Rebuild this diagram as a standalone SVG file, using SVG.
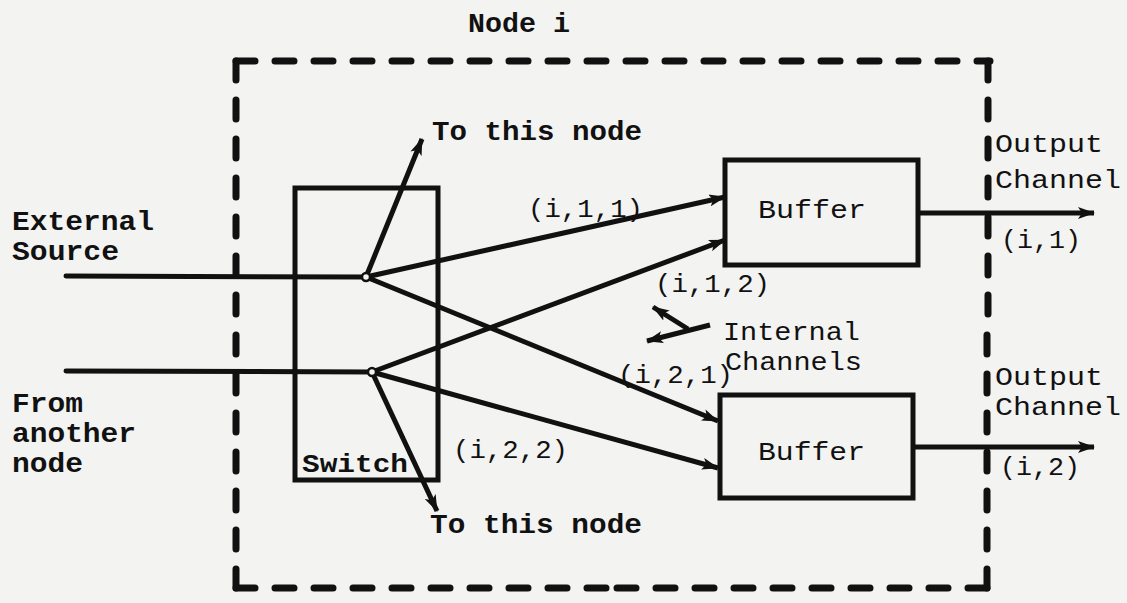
<svg xmlns="http://www.w3.org/2000/svg" width="1127" height="603" viewBox="0 0 1127 603">
<defs>
<marker id="ah" markerUnits="userSpaceOnUse" markerWidth="18" markerHeight="12" refX="16" refY="6" orient="auto">
<path d="M0,0 L17,6 L0,12 L4,6 z" fill="#111"/>
</marker>
<style>
.bg{fill:#f3f3f1}
.dash{stroke:#111;stroke-width:7;stroke-dasharray:19 20;stroke-linecap:round;fill:none}
.box{fill:none;stroke:#111;stroke-width:5}
.ln{stroke:#111;stroke-width:5;fill:none;stroke-linecap:round}
.arr{stroke:#111;stroke-width:5;fill:none;marker-end:url(#ah)}
.jn{fill:#f3f3f1;stroke:#111;stroke-width:2.5}
.b{font-family:"Liberation Mono","DejaVu Sans Mono",monospace;font-weight:bold;font-size:27px;fill:#111}
.r{font-family:"Liberation Mono","DejaVu Sans Mono",monospace;font-size:25px;fill:#111}
</style>
</defs>
<rect class="bg" x="0" y="0" width="1127" height="603"/>

<g id="node-i-boundary">
<line class="dash" x1="236" y1="61" x2="990" y2="61"/>
<line class="dash" x1="236" y1="61" x2="236" y2="325"/>
<line class="dash" x1="236" y1="588" x2="236" y2="325"/>
<line class="dash" x1="236" y1="588" x2="610" y2="588"/>
<line class="dash" x1="987" y1="588" x2="610" y2="588"/>
<line class="dash" x1="988" y1="61" x2="988" y2="325"/>
<line class="dash" x1="987" y1="588" x2="987" y2="325"/>
<text class="b" x="468" y="32" textLength="102" lengthAdjust="spacingAndGlyphs">Node i</text>
</g>

<g id="switch">
<rect class="box" x="295" y="188" width="143" height="292"/>
<text class="r" x="302" y="472" textLength="106" lengthAdjust="spacingAndGlyphs" font-weight="bold">Switch</text>
</g>

<g id="buffer-1">
<rect class="box" x="725" y="160" width="193" height="105"/>
<text class="r" x="758" y="218" textLength="108" lengthAdjust="spacingAndGlyphs">Buffer</text>
</g>

<g id="buffer-2">
<rect class="box" x="720" y="395" width="193" height="103"/>
<text class="r" x="758" y="460" textLength="107" lengthAdjust="spacingAndGlyphs">Buffer</text>
</g>

<g id="external-source">
<text class="b" x="12" y="230" textLength="142" lengthAdjust="spacingAndGlyphs">External</text>
<text class="b" x="12" y="260" textLength="107" lengthAdjust="spacingAndGlyphs">Source</text>
</g>

<g id="from-another-node">
<text class="b" x="12" y="412" textLength="71" lengthAdjust="spacingAndGlyphs">From</text>
<text class="b" x="12" y="442" textLength="124" lengthAdjust="spacingAndGlyphs">another</text>
<text class="b" x="12" y="472" textLength="71" lengthAdjust="spacingAndGlyphs">node</text>
</g>

<g id="to-this-node-1">
<text class="b" x="432" y="140" textLength="210" lengthAdjust="spacingAndGlyphs">To this node</text>
</g>
<g id="to-this-node-2">
<text class="b" x="430" y="533" textLength="212" lengthAdjust="spacingAndGlyphs">To this node</text>
</g>

<g id="output-channel-1">
<text class="r" x="995" y="152" textLength="108" lengthAdjust="spacingAndGlyphs">Output</text>
<text class="r" x="995" y="188" textLength="126" lengthAdjust="spacingAndGlyphs">Channel</text>
<text class="r" x="1001" y="248" textLength="80" lengthAdjust="spacingAndGlyphs">(i,1)</text>
</g>
<g id="output-channel-2">
<text class="r" x="995" y="385" textLength="108" lengthAdjust="spacingAndGlyphs">Output</text>
<text class="r" x="995" y="415" textLength="126" lengthAdjust="spacingAndGlyphs">Channel</text>
<text class="r" x="1000" y="475" textLength="80" lengthAdjust="spacingAndGlyphs">(i,2)</text>
</g>

<g id="internal-channels">
<text class="r" x="723" y="340" textLength="137" lengthAdjust="spacingAndGlyphs">Internal</text>
<text class="r" x="725" y="370" textLength="137" lengthAdjust="spacingAndGlyphs">Channels</text>
</g>

<g id="connectors">
<line class="ln" x1="66" y1="276" x2="366" y2="277"/>
<line class="ln" x1="66" y1="371" x2="372" y2="372"/>
<line class="arr" x1="366" y1="277" x2="422" y2="139"/>
<line class="arr" x1="366" y1="277" x2="725" y2="197"/>
<line class="arr" x1="366" y1="277" x2="718" y2="421"/>
<line class="arr" x1="372" y1="372" x2="725" y2="240"/>
<line class="arr" x1="372" y1="372" x2="718" y2="468"/>
<line class="arr" x1="372" y1="372" x2="437" y2="511"/>
<line class="arr" x1="918" y1="213" x2="1094" y2="213"/>
<line class="arr" x1="913" y1="447" x2="1094" y2="447"/>
<line class="arr" x1="710" y1="325" x2="647" y2="341"/>
<line class="arr" x1="688" y1="329" x2="653" y2="307"/>
<circle class="jn" cx="366" cy="277" r="4"/>
<circle class="jn" cx="372" cy="372" r="4"/>
<text class="r" x="528" y="217" textLength="115" lengthAdjust="spacingAndGlyphs">(i,1,1)</text>
<text class="r" x="655" y="292" textLength="115" lengthAdjust="spacingAndGlyphs">(i,1,2)</text>
<text class="r" x="618" y="383" textLength="115" lengthAdjust="spacingAndGlyphs">(i,2,1)</text>
<text class="r" x="453" y="458" textLength="115" lengthAdjust="spacingAndGlyphs">(i,2,2)</text>
</g>
</svg>
